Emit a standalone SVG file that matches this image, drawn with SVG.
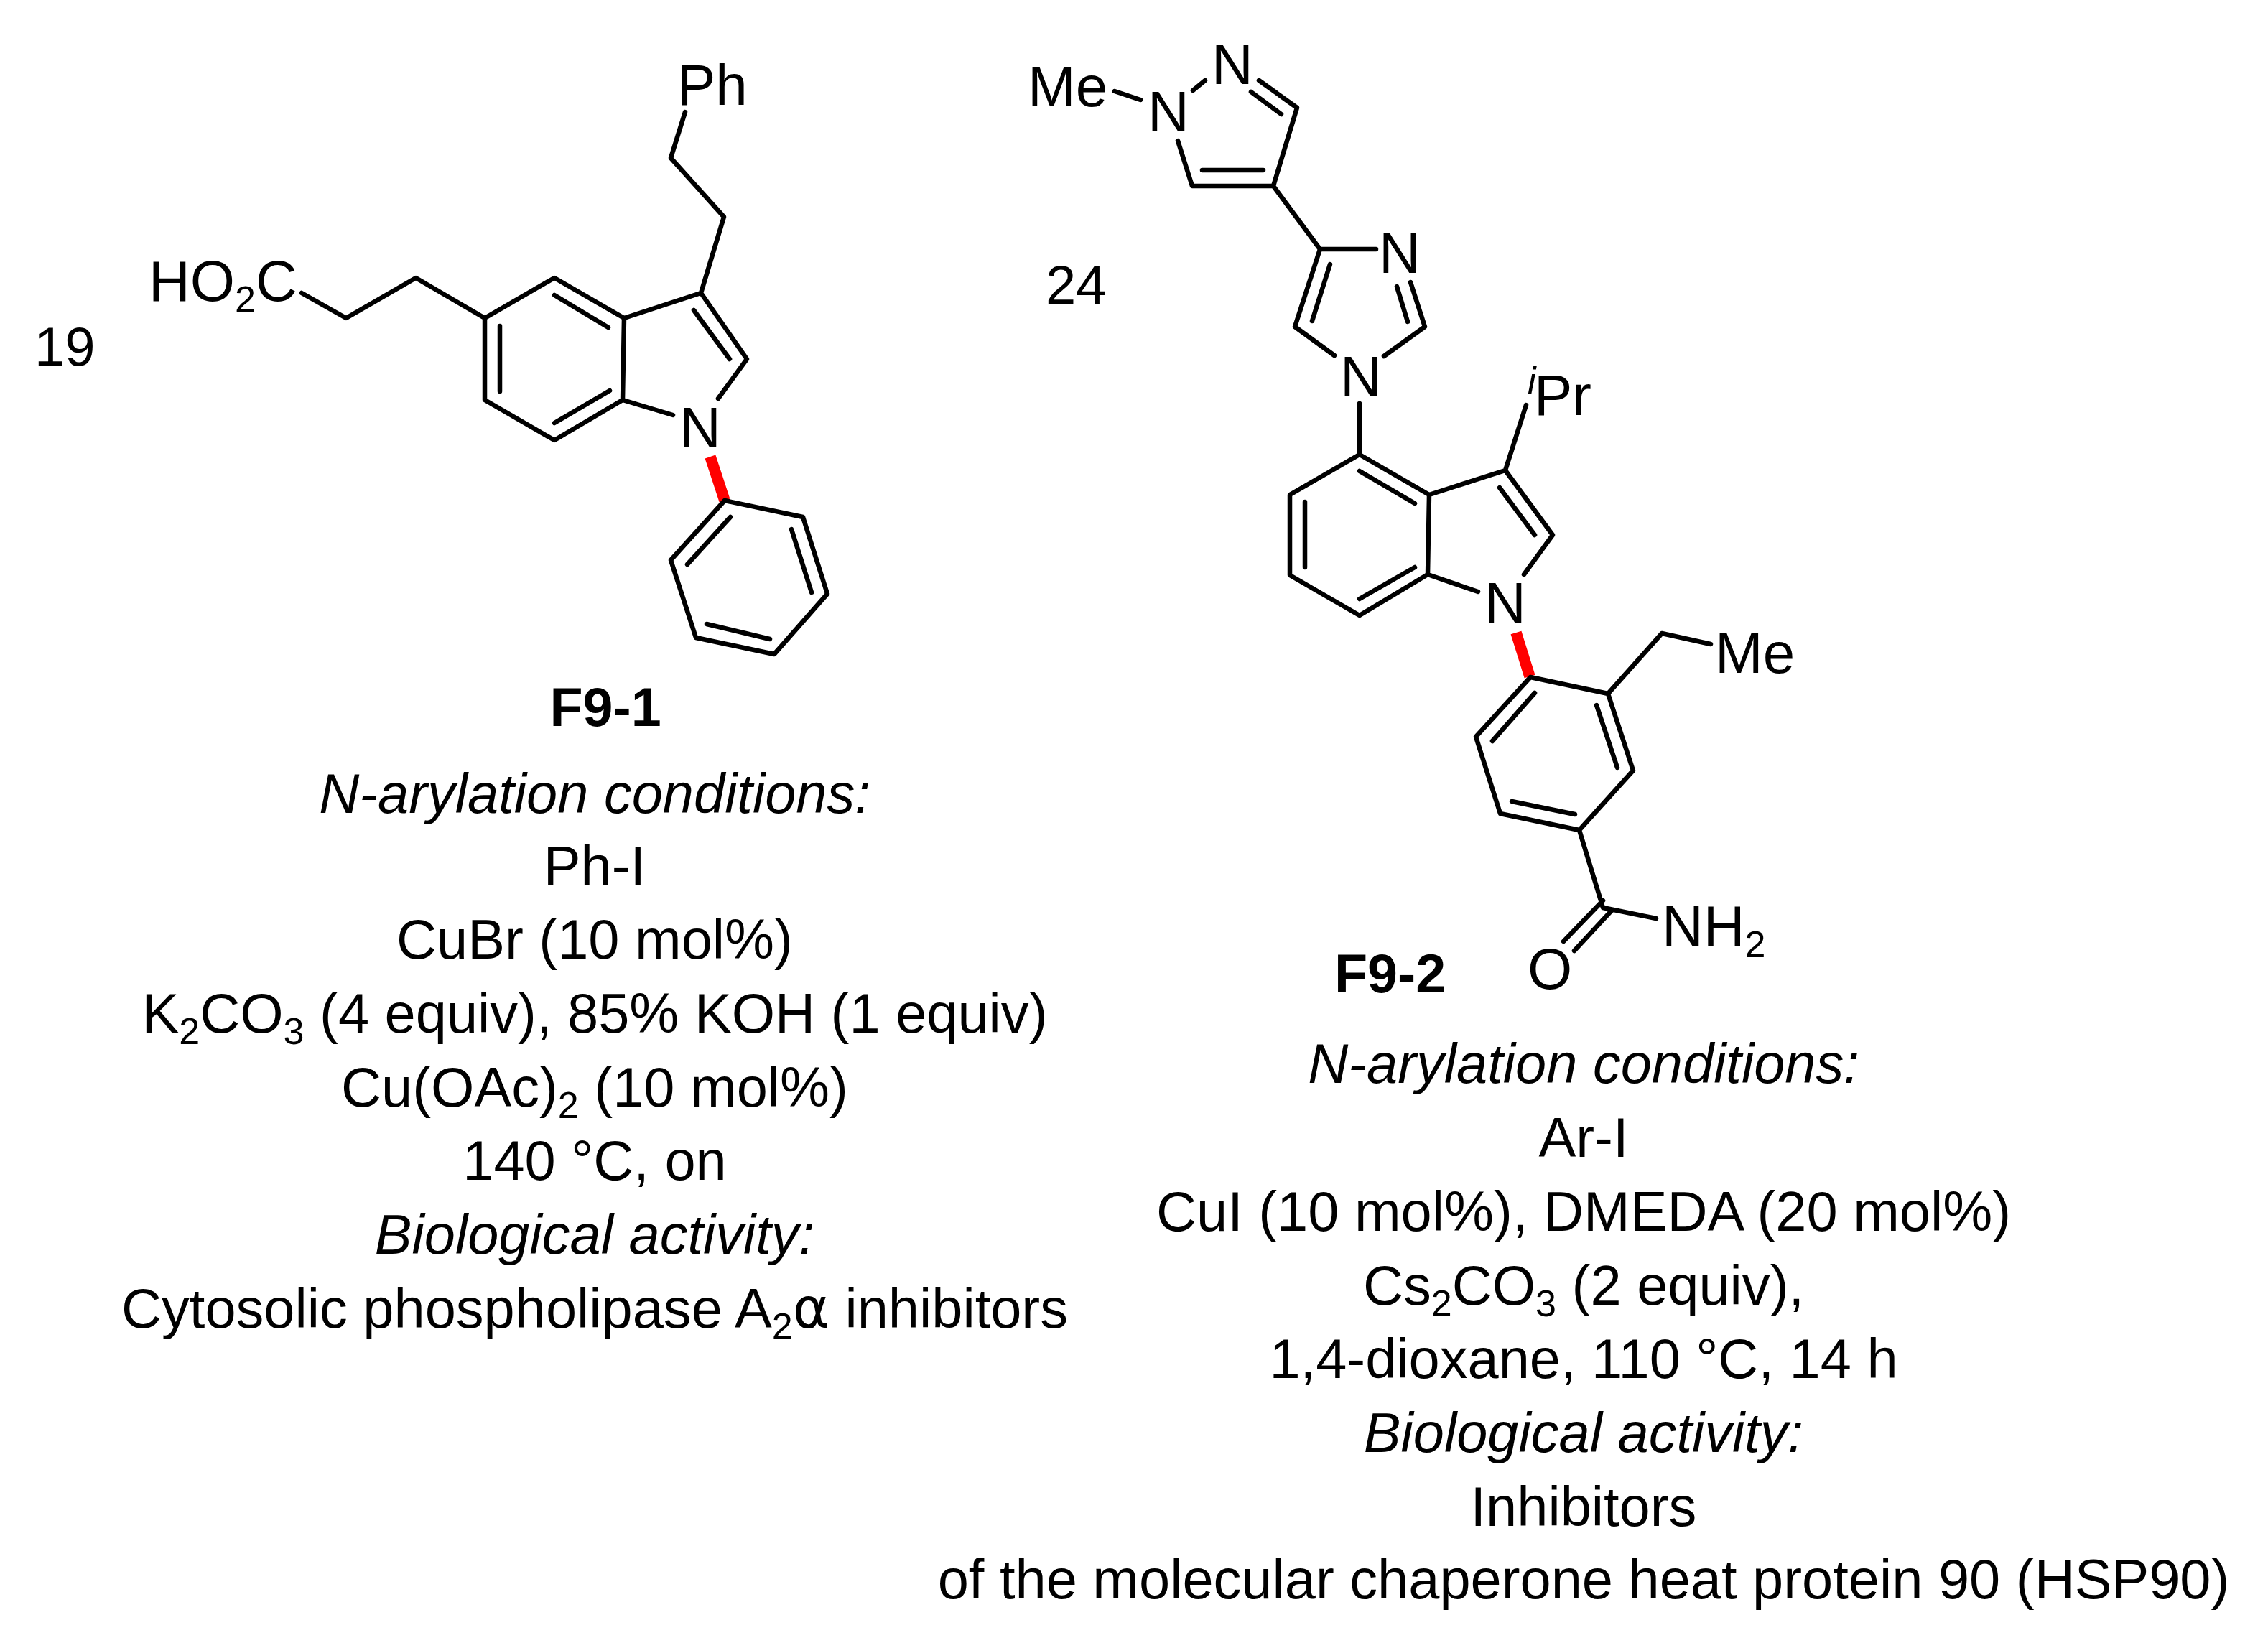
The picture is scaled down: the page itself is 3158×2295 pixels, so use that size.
<svg xmlns="http://www.w3.org/2000/svg" width="3158" height="2295" viewBox="0 0 3158 2295">
<style>
text{font-family:"Liberation Sans",Arial,sans-serif;font-size:77.6px;fill:#000}
.c{text-anchor:middle}
.b{font-weight:bold;font-size:75.5px}
.i{font-style:italic}
.a{font-size:80px}
.n{font-size:76px}
.bond{fill:none;stroke:#000;stroke-width:6.5;stroke-linejoin:round;stroke-linecap:round}
.red{fill:none;stroke:#f00;stroke-width:15.5}
.s{font-size:52px}
.g{font-family:"DejaVu Sans",sans-serif}
</style>
<rect width="3158" height="2295" fill="#fff"/>
<g id="molecule-F9-1">
<path class="bond" d="M954 156L934 220L1008 302L976 408L869 443L772 387L675 443L675 557L772 613L867 557L937 578M869 443L867 557M976 408L1040 500L1000 555M966 432L1016 500M772 411L847 456M696 454L696 545M772 589L849 544M675 443L579 387L482 443L420 408"/>
<path class="red" d="M989 636L1009 697"/>
<path class="bond" d="M1009 697L1118 720L1152 827L1078 911L969 888L934 780ZM1017 720L957 786M1102 737L1130 825M1072 890L984 869"/>
<text x="943" y="146" class="a">Ph</text>
<text x="207" y="419" class="a">HO<tspan class="s" dy="16">2</tspan><tspan dy="-16">C</tspan></text>
<text x="946" y="623" class="a">N</text>
<text x="48" y="509" class="n">19</text>
</g>
<g id="molecule-F9-2">
<path class="bond" d="M1552 127L1588 139M1661 126L1678 112M1753 112L1806 150L1773 259L1660 259L1640 196M1742 128L1784 159M1674 237L1759 237M1773 259L1838 347L1916 347M1838 347L1803 455L1858 495M1852 368L1827 447M1927 496L1984 455L1964 393M1945 399L1960 448M1893 562L1893 633L1990 689L2096 655L2162 745L2122 800M1893 633L1796 689L1796 801L1893 857L1988 800L2058 824M1990 689L1988 800M1893 656L1970 701M1817 699L1817 790M1893 834L1970 790M2088 679L2137 745M2096 655L2125 564"/>
<path class="red" d="M2111 881L2130 942"/>
<path class="bond" d="M2131 943L2239 966L2274 1073L2199 1156L2089 1133L2055 1026ZM2137 965L2078 1032M2223 982L2252 1069M2193 1134L2105 1116M2239 966L2314 882L2382 897M2199 1156L2232 1264L2306 1279M2232 1254L2177 1311M2244 1268L2192 1324"/>
<text x="1431" y="148" class="a">Me</text>
<text x="1598" y="183" class="a">N</text>
<text x="1687" y="117" class="a">N</text>
<text x="1920" y="380" class="a">N</text>
<text x="1866" y="552" class="a">N</text>
<text x="2067" y="867" class="a">N</text>
<text x="1456" y="423" class="n">24</text>
<text x="2127" y="548" class="i s">i</text>
<text x="2136" y="578" class="a">Pr</text>
<text x="2388" y="937" class="a">Me</text>
<text x="2314" y="1317" class="a">NH<tspan class="s" dy="16">2</tspan></text>
<text x="2127" y="1377" class="a">O</text>
</g>
<g id="text-F9-1">
<text x="843" y="1011" class="c b">F9-1</text>
<text x="828" y="1132" class="c i">N-arylation conditions:</text>
<text x="828" y="1233" class="c">Ph-I</text>
<text x="828" y="1335" class="c">CuBr (10 mol%)</text>
<text x="828" y="1438" class="c">K<tspan class="s" dy="16">2</tspan><tspan dy="-16">CO</tspan><tspan class="s" dy="16">3</tspan><tspan dy="-16"> (4 equiv), 85% KOH (1 equiv)</tspan></text>
<text x="828" y="1541" class="c">Cu(OAc)<tspan class="s" dy="16">2</tspan><tspan dy="-16"> (10 mol%)</tspan></text>
<text x="828" y="1643" class="c">140 °C, on</text>
<text x="828" y="1746" class="c i">Biological activity:</text>
<text x="828" y="1849" class="c">Cytosolic phospholipase A<tspan class="s" dy="16">2</tspan><tspan dy="-16" class="g">α</tspan><tspan> inhibitors</tspan></text>
</g>
<g id="text-F9-2">
<text x="1858" y="1382" class="b">F9-2</text>
<text x="2205" y="1508" class="c i">N-arylation conditions:</text>
<text x="2205" y="1611" class="c">Ar-I</text>
<text x="2205" y="1714" class="c">CuI (10 mol%), DMEDA (20 mol%)</text>
<text x="2205" y="1817" class="c">Cs<tspan class="s" dy="16">2</tspan><tspan dy="-16">CO</tspan><tspan class="s" dy="16">3</tspan><tspan dy="-16"> (2 equiv),</tspan></text>
<text x="2205" y="1919" class="c">1,4-dioxane, 110 °C, 14 h</text>
<text x="2205" y="2022" class="c i">Biological activity:</text>
<text x="2205" y="2125" class="c">Inhibitors</text>
<text x="2205" y="2226" class="c">of the molecular chaperone heat protein 90 (HSP90)</text>
</g>
</svg>
